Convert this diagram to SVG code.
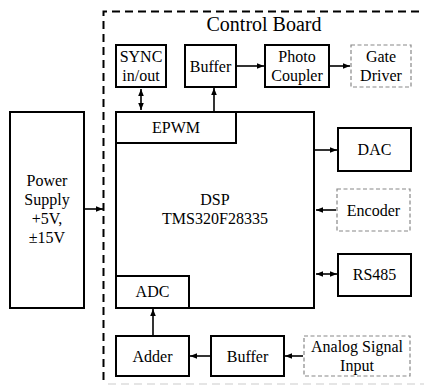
<svg xmlns="http://www.w3.org/2000/svg" width="424" height="385" viewBox="0 0 424 385" font-family="'Liberation Serif', 'DejaVu Serif', 'Times New Roman', serif">
<defs>
<style>
.b{fill:#fff;stroke:#000;stroke-width:2}
.d{fill:#fff;stroke:#888;stroke-width:1.2;stroke-dasharray:4 2.5}
.c{fill:none;stroke:#000;stroke-width:1.6}
text{font-family:'Liberation Serif','DejaVu Serif',serif;font-size:16px;fill:#000;text-anchor:middle}
</style>
<marker id="ah" viewBox="0 0 10 10" refX="10" refY="5" markerWidth="7" markerHeight="7" markerUnits="userSpaceOnUse" orient="auto-start-reverse">
<path d="M0,1 L10,5 L0,9 z" fill="#000"/>
</marker>
</defs>
<rect width="424" height="385" fill="#fff"/>
<g id="control-board">
<path d="M103.5,380 V11.5 H424" fill="none" stroke="#000" stroke-width="2" stroke-dasharray="8 5"/>
<path d="M108,384 H424" fill="none" stroke="#ddd" stroke-width="1.5" stroke-dasharray="8 5"/>
<text x="264" y="31" style="font-size:20px">Control Board</text>
</g>
<g id="connectors">
<path class="c" d="M141,89 V110" marker-start="url(#ah)" marker-end="url(#ah)"/>
<path class="c" d="M214,111 V88" marker-end="url(#ah)"/>
<path class="c" d="M237,66 H264" marker-end="url(#ah)"/>
<path class="c" d="M330,66 H350" marker-end="url(#ah)"/>
<path class="c" d="M315,150 H337" marker-end="url(#ah)"/>
<path class="c" d="M336,210 H316" marker-end="url(#ah)"/>
<path class="c" d="M316,274 H337" marker-start="url(#ah)" marker-end="url(#ah)"/>
<path class="c" d="M85,209 H103" marker-end="url(#ah)"/>
<path class="c" d="M153,335 V309" marker-end="url(#ah)"/>
<path class="c" d="M210,356 H190" marker-end="url(#ah)"/>
<path class="c" d="M303,356 H285" marker-end="url(#ah)"/>
</g>
<g id="sync"><rect class="b" x="116" y="45" width="50" height="42"/><text x="141" y="62">SYNC</text><text x="141" y="81">in/out</text></g>
<g id="buffer-top"><rect class="b" x="185" y="45" width="51" height="42"/><text x="210.5" y="72">Buffer</text></g>
<g id="photo-coupler"><rect class="b" x="265" y="45" width="64" height="42"/><text x="297" y="62">Photo</text><text x="297" y="81">Coupler</text></g>
<g id="gate-driver"><rect class="d" x="351" y="45" width="60" height="42"/><text x="381" y="62">Gate</text><text x="381" y="81">Driver</text></g>
<g id="dsp"><rect class="b" x="116" y="112" width="198" height="196"/><text x="215" y="205">DSP</text><text x="215" y="224">TMS320F28335</text></g>
<g id="epwm"><rect class="b" x="116" y="112" width="120" height="31"/><text x="176" y="133">EPWM</text></g>
<g id="adc"><rect class="b" x="116" y="276" width="73" height="32"/><text x="152.5" y="297">ADC</text></g>
<g id="dac"><rect class="b" x="338" y="128" width="73" height="43"/><text x="374.5" y="155">DAC</text></g>
<g id="encoder"><rect class="d" x="337" y="189" width="73" height="42"/><text x="373.5" y="216">Encoder</text></g>
<g id="rs485"><rect class="b" x="338" y="254" width="73" height="42"/><text x="374.5" y="280">RS485</text></g>
<g id="power-supply"><rect class="b" x="10" y="112" width="74" height="196"/><text x="47" y="186">Power</text><text x="47" y="205">Supply</text><text x="47" y="224">+5V,</text><text x="47" y="243">±15V</text></g>
<g id="adder"><rect class="b" x="116" y="336" width="73" height="40"/><text x="152.5" y="362">Adder</text></g>
<g id="buffer-bottom"><rect class="b" x="211" y="336" width="73" height="40"/><text x="247.5" y="362">Buffer</text></g>
<g id="analog-input"><rect class="d" x="304" y="336" width="106" height="40"/><text x="357" y="352">Analog Signal</text><text x="357" y="371">Input</text></g>
</svg>
